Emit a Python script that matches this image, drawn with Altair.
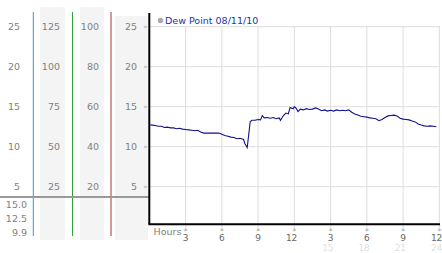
import altair as alt
import pandas as pd

# ---- data ----
hours = [0, 0.25, 0.5, 0.75, 1.0, 1.25, 1.5, 1.75, 2.0, 2.25, 2.5, 2.75, 3.0, 3.25, 3.5, 3.75,
         4.0, 4.25, 4.5, 4.75, 5.0, 5.25, 5.5, 5.75, 6.0, 6.25, 6.5, 6.75, 7.0, 7.25, 7.5, 7.8,
         7.9, 8.1, 8.35, 8.5, 8.75, 9.0, 9.2, 9.35, 9.5, 9.75, 10.0, 10.25, 10.5, 10.75, 10.85,
         11.1, 11.3, 11.5, 11.65, 11.9, 12.0, 12.15, 12.3, 12.5, 12.75, 13.0, 13.25, 13.5, 13.75,
         14.0, 14.25, 14.5, 14.75, 15.0, 15.25, 15.5, 15.75, 16.0, 16.25, 16.5, 16.75, 17.0,
         17.25, 17.5, 17.75, 18.0, 18.25, 18.5, 18.75, 19.0, 19.25, 19.5, 19.75, 20.0, 20.25,
         20.5, 20.75, 21.0, 21.25, 21.5, 21.75, 22.0, 22.25, 22.5, 22.75, 23.0, 23.25, 23.5, 23.75]
dew = [12.75, 12.7, 12.65, 12.55, 12.55, 12.4, 12.45, 12.35, 12.35, 12.25, 12.3, 12.2, 12.15, 12.1, 12.05, 12.0,
       12.05, 11.85, 11.7, 11.7, 11.7, 11.7, 11.7, 11.7, 11.55, 11.4, 11.3, 11.2, 11.15, 11.0, 11.05, 10.9,
       10.4, 9.9, 13.15, 13.3, 13.3, 13.4, 13.35, 13.9, 13.6, 13.65, 13.55, 13.65, 13.5, 13.6, 13.3,
       13.9, 14.2, 14.1, 14.9, 14.75, 15.0, 14.8, 14.4, 14.7, 14.6, 14.75, 14.65, 14.7, 14.85,
       14.7, 14.5, 14.6, 14.45, 14.55, 14.45, 14.6, 14.5, 14.55, 14.5, 14.6, 14.3, 14.1,
       13.95, 13.8, 13.75, 13.7, 13.6, 13.55, 13.5, 13.25, 13.4, 13.65, 13.85, 13.9, 13.95,
       13.85, 13.55, 13.45, 13.4, 13.35, 13.2, 13.1, 12.85, 12.7, 12.6, 12.55, 12.6, 12.55, 12.5]

y_ticks = [25, 20, 15, 10, 5]
col1_labels = ["25", "20", "15", "10", "5"]
col2_labels = ["125", "100", "75", "50", "25"]
col3_labels = ["100", "80", "60", "40", "20"]
col4_labels = ["25", "20", "15", "10", "5"]
x_ticks = [3, 6, 9, 12, 15, 18, 21, 24]
x_labels = ["3", "6", "9", "12", "3", "6", "9", "12"]
x_labels_24 = ["", "", "", "", "15", "18", "21", "24"]
stats = ["15.0", "12.5", "9.9"]
legend_label = "Dew Point 08/11/10"
x_title = "Hours"

# ---- scales ----
XS = alt.Scale(domain=[-12.36, 24.22], nice=False, zero=False)
YS = alt.Scale(domain=[-3.29, 28.34], nice=False, zero=False)
FONT = "DejaVu Sans"
GRAY_TXT = "#808080"

series = pd.DataFrame({"h": hours, "v": dew})
yt = pd.DataFrame({"v": y_ticks, "c1": col1_labels, "c2": col2_labels,
                   "c3": col3_labels, "c4": col4_labels})
xt = pd.DataFrame({"h": x_ticks, "lab": x_labels, "lab24": x_labels_24})
one = pd.DataFrame({"a": [0]})

base_y = alt.Y("v:Q", scale=YS, axis=None)
base_x = alt.X("h:Q", scale=XS, axis=None)

layers = []

# column backgrounds
for x0, x1, y0, y1 in [(40, 65, 7, 240), (80, 104, 7, 240), (115, 148, 16, 240)]:
    layers.append(alt.Chart(one).mark_rect(color="#f4f4f4").encode(
        x=alt.value(x0), x2=alt.value(x1), y=alt.value(y0), y2=alt.value(y1)))

# coloured vertical rules
for xp, col in [(33.3, "#3399cc"), (72.5, "#33a033"), (111, "#aa3333")]:
    layers.append(alt.Chart(one).mark_rule(color=col, strokeWidth=1).encode(
        x=alt.value(xp), y=alt.value(12), y2=alt.value(236)))

# gray separator
layers.append(alt.Chart(one).mark_rule(color="#999999", strokeWidth=2).encode(
    x=alt.value(0), x2=alt.value(149), y=alt.value(197)))

# horizontal gridlines
layers.append(alt.Chart(yt).mark_rule(color="#dddddd", strokeWidth=1).encode(
    y=base_y, x=alt.value(149), x2=alt.value(440)))
# vertical gridlines
layers.append(alt.Chart(xt).mark_rule(color="#dddddd", strokeWidth=1).encode(
    x=base_x, y=alt.value(26.7), y2=alt.value(231)))

# left column labels
for field, xp in [("c1", 20), ("c2", 60), ("c3", 99), ("c4", 137)]:
    layers.append(alt.Chart(yt).mark_text(align="right", baseline="middle", font=FONT,
                                          fontSize=9.5, color=GRAY_TXT).encode(
        y=base_y, x=alt.value(xp), text=f"{field}:N"))
# y tick glyphs
layers.append(alt.Chart(yt).mark_text(align="center", baseline="middle", font=FONT,
                                      fontSize=7, color="#aaaaaa").encode(
    y=base_y, x=alt.value(145.5), text=alt.value("»")))

# stats
for s, yp in zip(stats, [204.5, 218.5, 232.5]):
    layers.append(alt.Chart(pd.DataFrame({"s": [s]})).mark_text(
        align="right", baseline="middle", font=FONT, fontSize=9.5, color=GRAY_TXT).encode(
        y=alt.value(yp), x=alt.value(27), text="s:N"))

# axes lines
layers.append(alt.Chart(one).mark_rule(color="#000000", strokeWidth=2).encode(
    x=alt.value(149.3), y=alt.value(13), y2=alt.value(224.5)))
layers.append(alt.Chart(one).mark_rule(color="#000000", strokeWidth=2).encode(
    x=alt.value(148.5), x2=alt.value(440), y=alt.value(224.3)))

# x tick glyphs and labels
layers.append(alt.Chart(xt).mark_text(align="center", baseline="middle", font=FONT,
                                      fontSize=7, color="#999999").encode(
    x=base_x, y=alt.value(230), text=alt.value("»")))
layers.append(alt.Chart(xt).mark_text(align="right", dx=3, baseline="middle", font=FONT,
                                      fontSize=9, color="#666666").encode(
    x=base_x, y=alt.value(237.5), text="lab:N"))
layers.append(alt.Chart(xt).mark_text(align="right", dx=3, baseline="middle", font=FONT,
                                      fontSize=9, color="#e0e0e0").encode(
    x=base_x, y=alt.value(247.5), text="lab24:N"))
layers.append(alt.Chart(pd.DataFrame({"t": [x_title]})).mark_text(
    align="left", baseline="middle", font=FONT, fontSize=9.5, color=GRAY_TXT).encode(
    x=alt.value(153.5), y=alt.value(232), text="t:N"))

# series line
layers.append(alt.Chart(series).mark_line(color="#12128c", strokeWidth=1.1).encode(
    x=base_x, y=base_y))

# legend
layers.append(alt.Chart(one).mark_point(
    shape="circle", filled=True, size=28, color="#aaaaaa", opacity=1).encode(
    x=alt.value(160.5), y=alt.value(20.5)))
layers.append(alt.Chart(pd.DataFrame({"t": [legend_label]})).mark_text(
    align="left", baseline="middle", font=FONT, fontSize=9.5, color="#2233aa").encode(
    x=alt.value(165), y=alt.value(20.5), text="t:N"))

chart = alt.layer(*layers).properties(
    width=442, height=253, autosize=alt.AutoSizeParams(type="none"), padding=0,
    background="white"
).configure_view(stroke=None)

chart.save("out.html", embed_options={"renderer": "svg", "actions": False})
